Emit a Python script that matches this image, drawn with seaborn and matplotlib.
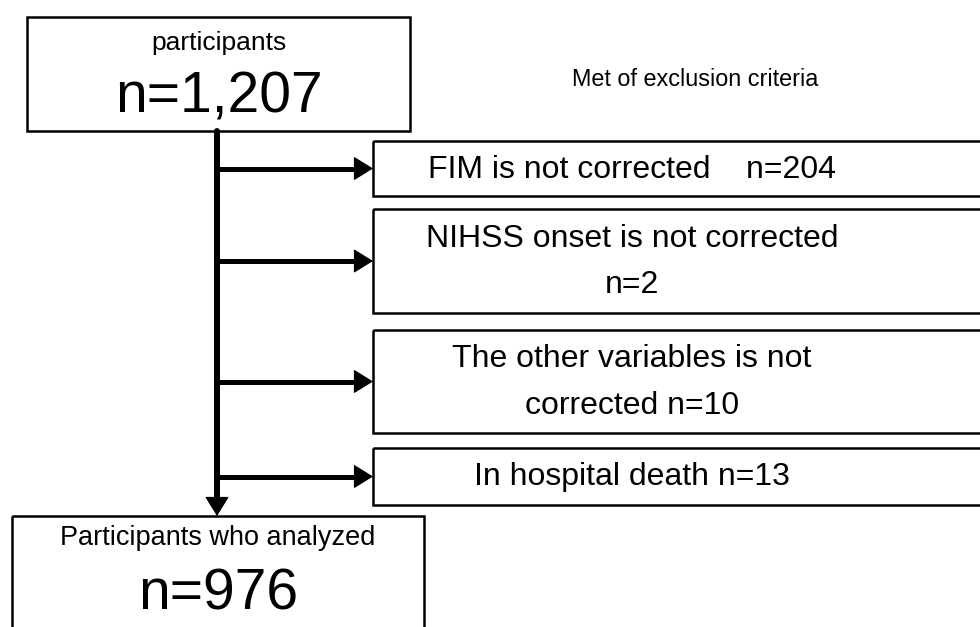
import matplotlib
matplotlib.use("Agg")
import matplotlib.pyplot as plt
import seaborn as sns
import pandas as pd
from matplotlib.patches import Rectangle

# data
start_label = "participants"
start_n = 1207
end_label = "Participants who analyzed"
end_n = 976
excl_title = "Met of exclusion criteria"
excl_reasons = ["FIM is not corrected", "NIHSS onset is not corrected",
                "The other variables is not\ncorrected", "In hospital death"]
excl_sep = ["    ", "\n", " ", " "]
excl_n = [204, 2, 10, 13]

sns.set_theme(style="white")
plt.rcParams['font.family'] = ['Liberation Sans', 'DejaVu Sans']
plt.rcParams['text.color'] = 'black'

fig = plt.figure(figsize=(9.8, 6.27), dpi=100)
ax = fig.add_axes([0, 0, 1, 1])
ax.set_xlim(0, 980)
ax.set_ylim(627, 0)
ax.axis('off')

def box(x0, y0, x1, y1):
    ax.add_patch(Rectangle((x0, y0), x1 - x0, y1 - y0, fill=False,
                           edgecolor='black', lw=1.8, zorder=3))

def head(x0, y0, x1, y1):
    ax.annotate("", xy=(x1, y1), xytext=(x0, y0),
                arrowprops=dict(arrowstyle="-|>,head_length=0.42,head_width=0.26", mutation_scale=30,
                                color='black', lw=0.8, shrinkA=0, shrinkB=0))

# layout (pixel coords)
trunk_x = 217
top_box = (27, 17, 410, 131)
bot_box = (12, 516, 424, 650)
excl_rows = [(141, 196), (209, 313), (330, 433), (448, 505)]
excl_x0 = 373

# top box
box(*top_box)
ax.text((top_box[0] + top_box[2]) / 2, 43, start_label, ha='center', va='center', fontsize=19)
ax.text((top_box[0] + top_box[2]) / 2, 97, f"n={start_n:,}", ha='center', va='center', fontsize=41)

# bottom box
box(*bot_box)
ax.text((bot_box[0] + bot_box[2]) / 2, 538, end_label, ha='center', va='center', fontsize=19.5)
ax.text((bot_box[0] + bot_box[2]) / 2, 594, f"n={end_n:,}", ha='center', va='center', fontsize=41)

# trunk
trunk = pd.DataFrame({'x': [trunk_x, trunk_x], 'y': [top_box[3], bot_box[1] - 12]})
sns.lineplot(data=trunk, x='x', y='y', sort=False, estimator=None, color='black', lw=4.3, ax=ax)
head(trunk_x, bot_box[1] - 20, trunk_x, bot_box[1])

ax.text(695, 80, excl_title, ha='center', va='center', fontsize=16.8)

for (y0, y1), reason, sep, n in zip(excl_rows, excl_reasons, excl_sep, excl_n):
    box(excl_x0, y0, 1000, y1)
    yc = (y0 + y1) / 2
    seg = pd.DataFrame({'x': [trunk_x, excl_x0 - 12], 'y': [yc, yc]})
    sns.lineplot(data=seg, x='x', y='y', sort=False, estimator=None, color='black', lw=3.6, ax=ax)
    head(trunk_x, yc, excl_x0, yc)
    ax.text(632, yc + 1, f"{reason}{sep}n={n}", ha='center', va='center', fontsize=23,
            linespacing=1.7)

ax.set_xlabel('')
ax.set_ylabel('')
fig.savefig("out.png", dpi=100)
